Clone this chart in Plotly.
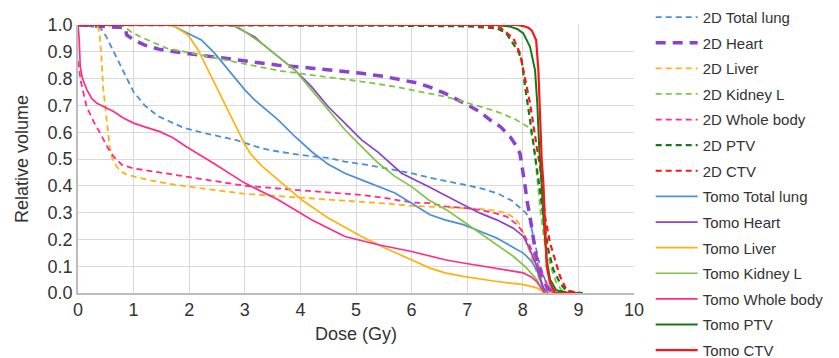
import plotly.graph_objects as go

# ---------------- data (dose in Gy, relative volume) ----------------
x_2d_lung = [0, 0.4, 0.5, 0.67, 0.85, 1.0, 1.2, 1.44, 1.7, 1.92, 2.2, 2.52, 2.85, 3.0, 3.3, 3.6, 4.0, 4.5, 4.8, 5.2, 5.7, 6.0, 6.33, 6.6, 6.93, 7.25, 7.53, 7.8, 7.95, 8.05, 8.11, 8.2, 8.3, 8.4, 8.5, 8.6]
y_2d_lung = [1.0, 0.99, 0.96, 0.89, 0.81, 0.75, 0.70, 0.66, 0.635, 0.615, 0.60, 0.585, 0.57, 0.56, 0.54, 0.528, 0.515, 0.504, 0.49, 0.478, 0.46, 0.447, 0.43, 0.42, 0.405, 0.39, 0.373, 0.345, 0.318, 0.30, 0.284, 0.2, 0.11, 0.05, 0.015, 0]

x_2d_heart = [0, 0.85, 0.875, 1.0, 1.2, 1.45, 1.74, 2.1, 2.46, 2.8, 3.18, 3.6, 4.2, 4.7, 5.1, 5.5, 5.7, 6.12, 6.33, 6.6, 6.93, 7.2, 7.41, 7.6, 7.77, 7.88, 7.95, 8.0, 8.04, 8.08, 8.13, 8.2, 8.25, 8.37, 8.45, 8.6]
y_2d_heart = [1.0, 0.99, 0.963, 0.945, 0.925, 0.91, 0.9, 0.89, 0.882, 0.872, 0.86, 0.85, 0.839, 0.83, 0.82, 0.808, 0.80, 0.783, 0.768, 0.745, 0.71, 0.68, 0.646, 0.62, 0.584, 0.55, 0.52, 0.46, 0.40, 0.34, 0.285, 0.19, 0.124, 0.05, 0.015, 0]

x_2d_liver = [0, 0.34, 0.38, 0.42, 0.45, 0.51, 0.57, 0.62, 0.7, 0.8, 0.9, 1.0, 1.3, 1.74, 2.2, 2.64, 3.0, 3.5, 3.9, 4.5, 5.1, 5.6, 6.0, 6.33, 6.6, 6.93, 7.23, 7.5, 7.71, 7.85, 7.95, 8.03, 8.1, 8.18, 8.25, 8.33, 8.4, 8.5]
y_2d_liver = [1.0, 1.0, 0.98, 0.89, 0.77, 0.646, 0.546, 0.50, 0.47, 0.45, 0.44, 0.435, 0.42, 0.404, 0.39, 0.379, 0.37, 0.363, 0.358, 0.35, 0.342, 0.333, 0.325, 0.322, 0.318, 0.316, 0.314, 0.307, 0.298, 0.28, 0.255, 0.21, 0.17, 0.12, 0.075, 0.035, 0.01, 0]

x_2d_kidney = [0, 0.6, 0.81, 0.95, 1.12, 1.35, 1.6, 2.07, 2.5, 3.0, 3.6, 4.0, 4.5, 5.1, 5.7, 6.3, 6.6, 6.93, 7.25, 7.53, 7.85, 8.13, 8.2, 8.26, 8.32, 8.4, 8.5, 8.6, 8.7, 8.8]
y_2d_kidney = [1.0, 1.0, 0.997, 0.975, 0.956, 0.935, 0.913, 0.894, 0.875, 0.855, 0.83, 0.818, 0.805, 0.789, 0.77, 0.745, 0.733, 0.714, 0.695, 0.677, 0.65, 0.615, 0.55, 0.42, 0.3, 0.18, 0.1, 0.04, 0.01, 0]

x_2d_body = [0, 0.05, 0.155, 0.28, 0.4, 0.54, 0.64, 0.79, 1.0, 1.15, 1.45, 1.74, 2.1, 2.46, 3.0, 3.6, 4.2, 4.7, 5.1, 5.6, 6.0, 6.33, 6.6, 6.93, 7.23, 7.5, 7.71, 7.9, 8.01, 8.1, 8.19, 8.28, 8.37, 8.45, 8.55]
y_2d_body = [0.865, 0.79, 0.695, 0.64, 0.596, 0.54, 0.51, 0.478, 0.465, 0.46, 0.45, 0.441, 0.428, 0.416, 0.4, 0.39, 0.379, 0.372, 0.366, 0.352, 0.338, 0.335, 0.323, 0.318, 0.31, 0.298, 0.285, 0.255, 0.224, 0.185, 0.149, 0.1, 0.062, 0.025, 0]

x_2d_ptv = [0, 4.5, 6.0, 7.0, 7.53, 7.7, 7.83, 7.92, 7.98, 8.04, 8.13, 8.22, 8.25, 8.31, 8.37, 8.46, 8.55, 8.67, 8.79, 9.08]
y_2d_ptv = [1.0, 0.999, 0.997, 0.995, 0.988, 0.97, 0.93, 0.9, 0.87, 0.77, 0.646, 0.52, 0.472, 0.38, 0.285, 0.16, 0.087, 0.037, 0.006, 0]

x_2d_ctv = [0, 7.0, 7.6, 7.83, 7.95, 8.04, 8.13, 8.25, 8.31, 8.4, 8.49, 8.58, 8.67, 8.79, 9.0]
y_2d_ctv = [1.0, 1.0, 0.99, 0.95, 0.894, 0.807, 0.708, 0.546, 0.472, 0.285, 0.186, 0.124, 0.062, 0.01, 0]

x_tomo_lung = [0, 1.68, 1.92, 2.22, 2.46, 2.76, 3.0, 3.18, 3.6, 3.9, 4.2, 4.5, 4.8, 5.1, 5.7, 6.0, 6.33, 6.6, 6.93, 7.53, 8.01, 8.15, 8.25, 8.32, 8.37, 8.45]
y_tomo_lung = [1.0, 1.0, 0.975, 0.944, 0.894, 0.82, 0.758, 0.72, 0.646, 0.584, 0.528, 0.48, 0.447, 0.422, 0.373, 0.335, 0.292, 0.273, 0.255, 0.205, 0.149, 0.12, 0.087, 0.045, 0.01, 0]

x_tomo_heart = [0, 2.7, 2.82, 3.0, 3.18, 3.3, 3.6, 3.9, 4.2, 4.5, 4.8, 5.1, 5.4, 5.82, 6.3, 6.63, 6.93, 7.23, 7.53, 7.83, 8.01, 8.13, 8.25, 8.37, 8.45]
y_tomo_heart = [1.0, 1.0, 0.995, 0.975, 0.955, 0.932, 0.882, 0.832, 0.77, 0.695, 0.634, 0.571, 0.525, 0.447, 0.397, 0.36, 0.329, 0.298, 0.273, 0.242, 0.211, 0.161, 0.1, 0.02, 0]

x_tomo_liver = [0, 1.7, 1.98, 2.16, 2.34, 2.64, 2.94, 3.0, 3.1, 3.3, 3.6, 4.02, 4.5, 5.1, 5.52, 6.0, 6.33, 6.6, 6.93, 7.53, 8.01, 8.25, 8.43]
y_tomo_liver = [1.0, 1.0, 0.963, 0.907, 0.832, 0.708, 0.58, 0.555, 0.52, 0.475, 0.422, 0.348, 0.28, 0.211, 0.168, 0.124, 0.093, 0.075, 0.062, 0.043, 0.031, 0.019, 0]

x_tomo_kidney = [0, 2.75, 2.9, 3.0, 3.3, 3.6, 3.9, 4.2, 4.5, 4.8, 5.1, 5.4, 5.7, 6.0, 6.3, 6.63, 6.93, 7.23, 7.53, 7.83, 8.07, 8.25, 8.37]
y_tomo_kidney = [1.0, 1.0, 0.99, 0.975, 0.932, 0.882, 0.832, 0.758, 0.683, 0.609, 0.546, 0.485, 0.435, 0.397, 0.348, 0.31, 0.267, 0.224, 0.18, 0.137, 0.093, 0.05, 0]

x_tomo_body = [0, 0.02, 0.04, 0.08, 0.16, 0.25, 0.34, 0.5, 0.64, 0.8, 1.0, 1.2, 1.47, 1.7, 1.95, 2.43, 2.91, 3.0, 3.6, 4.2, 4.8, 5.4, 6.0, 6.6, 6.93, 7.53, 8.01, 8.15, 8.25, 8.4]
y_tomo_body = [1.0, 0.95, 0.845, 0.8, 0.758, 0.725, 0.708, 0.69, 0.677, 0.655, 0.634, 0.62, 0.602, 0.58, 0.546, 0.485, 0.422, 0.41, 0.348, 0.273, 0.211, 0.18, 0.155, 0.124, 0.112, 0.093, 0.075, 0.06, 0.043, 0]

x_tomo_ptv = [0, 7.5, 7.77, 7.9, 8.01, 8.13, 8.22, 8.26, 8.3, 8.32, 8.37, 8.43, 8.49, 8.6, 8.8, 9.05]
y_tomo_ptv = [1.0, 1.0, 0.994, 0.985, 0.969, 0.919, 0.832, 0.708, 0.522, 0.47, 0.285, 0.124, 0.05, 0.01, 0.002, 0]

x_tomo_ctv = [0, 7.9, 8.01, 8.1, 8.16, 8.24, 8.28, 8.31, 8.34, 8.37, 8.4, 8.43, 8.49, 8.58, 9.0]
y_tomo_ctv = [1.0, 1.0, 0.996, 0.99, 0.98, 0.944, 0.832, 0.646, 0.497, 0.41, 0.224, 0.1, 0.037, 0, 0]

x_ticks = [0, 1, 2, 3, 4, 5, 6, 7, 8, 9, 10]
y_ticks = [0.0, 0.1, 0.2, 0.3, 0.4, 0.5, 0.6, 0.7, 0.8, 0.9, 1.0]

# ---------------- styling ----------------
BLUE = "#4a8fda"
PURPLE = "#8a42cf"
ORANGE = "#ffb20f"
LGREEN = "#80c544"
PINK = "#ff2d87"
DGREEN = "#147a16"
RED = "#ff1414"

series = [
    ("2D Total lung", x_2d_lung, y_2d_lung, BLUE, "6px,4px", 1.8, "legend"),
    ("2D Heart", x_2d_heart, y_2d_heart, PURPLE, "10px,7px", 3.5, "legend"),
    ("2D Liver", x_2d_liver, y_2d_liver, ORANGE, "6px,4px", 1.8, "legend"),
    ("2D Kidney L", x_2d_kidney, y_2d_kidney, LGREEN, "6px,4px", 1.8, "legend"),
    ("2D Whole body", x_2d_body, y_2d_body, PINK, "6px,4px", 1.8, "legend"),
    ("2D PTV", x_2d_ptv, y_2d_ptv, DGREEN, "6px,4px", 2.2, "legend"),
    ("2D CTV", x_2d_ctv, y_2d_ctv, RED, "6px,4px", 2.2, "legend"),
    ("Tomo Total lung", x_tomo_lung, y_tomo_lung, BLUE, "solid", 1.7, "legend2"),
    ("Tomo Heart", x_tomo_heart, y_tomo_heart, PURPLE, "solid", 1.7, "legend2"),
    ("Tomo Liver", x_tomo_liver, y_tomo_liver, ORANGE, "solid", 1.7, "legend2"),
    ("Tomo Kidney L", x_tomo_kidney, y_tomo_kidney, LGREEN, "solid", 1.7, "legend2"),
    ("Tomo Whole body", x_tomo_body, y_tomo_body, PINK, "solid", 1.7, "legend2"),
    ("Tomo PTV", x_tomo_ptv, y_tomo_ptv, DGREEN, "solid", 2.0, "legend2"),
    ("Tomo CTV", x_tomo_ctv, y_tomo_ctv, RED, "solid", 2.2, "legend2"),
]

fig = go.Figure()
for name, xs, ys, color, dash, width, leg in series:
    fig.add_trace(go.Scatter(
        x=xs, y=ys, mode="lines", name=name,
        line=dict(color=color, dash=dash, width=width),
        legend=leg, legendgroup=name,
    ))

FONT = "Liberation Sans, Arial, Helvetica, sans-serif"
leg_common = dict(
    font=dict(family=FONT, size=15, color="#333333"),
    bgcolor="rgba(0,0,0,0)", borderwidth=0,
    traceorder="grouped", tracegroupgap=3.1,
    itemwidth=42,
    xanchor="left", yanchor="middle", x=1.03,
)

# page has an 8px body margin: figure is 831x350 so it ends at the window edge
fig.update_layout(
    width=831, height=350,
    margin=dict(l=70, r=205, t=17, b=65, autoexpand=False),
    paper_bgcolor="white", plot_bgcolor="white",
    font=dict(family=FONT, color="#333333"),
    showlegend=True,
    legend=dict(**leg_common, y=0.741),
    legend2=dict(**leg_common, y=0.072),
    xaxis=dict(
        range=[0, 10], tickmode="array", tickvals=x_ticks,
        ticktext=[str(v) for v in x_ticks],
        showgrid=True, gridcolor="#d9d9d9", gridwidth=1,
        showline=True, linecolor="#bdbdbd", linewidth=1.5,
        zeroline=False, ticks="", tickfont=dict(size=18, color="#333333"),
        title=dict(text="Dose (Gy)", font=dict(size=18, color="#333333"), standoff=8),
        fixedrange=True,
    ),
    yaxis=dict(
        range=[0, 1.0], tickmode="array", tickvals=y_ticks,
        ticktext=["%.1f" % v for v in y_ticks],
        showgrid=True, gridcolor="#d9d9d9", gridwidth=1,
        showline=True, linecolor="#bdbdbd", linewidth=1.5,
        zeroline=False, ticks="", tickfont=dict(size=18, color="#333333"),
        title=dict(text="Relative volume", font=dict(size=18, color="#333333"), standoff=14),
        fixedrange=True,
    ),
)

fig.write_html("out.html")
